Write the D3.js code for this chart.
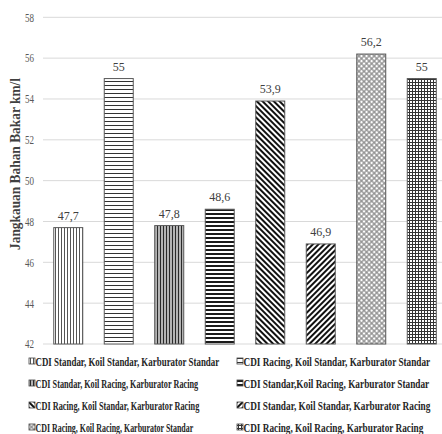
<!DOCTYPE html>
<html>
<head>
<meta charset="utf-8">
<script src="https://cdn.jsdelivr.net/npm/d3@7"></script>
<style>
  html, body { margin: 0; padding: 0; background: #fff; }
  svg { display: block; }
</style>
</head>
<body>
<svg id="chart" width="442" height="434"></svg>
<script>
// Fuel range (km/l) for each ignition / coil / carburetor setup
const setups = [
  "CDI Standar, Koil Standar, Karburator Standar",
  "CDI Racing, Koil Standar, Karburator Standar",
  "CDI Standar, Koil Racing, Karburator Racing",
  "CDI Standar,Koil Racing, Karburator Standar",
  "CDI Racing, Koil Standar, Karburator Racing",
  "CDI Standar, Koil Standar, Karburator Racing",
  "CDI Racing, Koil Racing, Karburator Standar",
  "CDI Racing, Koil Racing, Karburator Racing"
];
const rangeKmL = [47.7, 55, 47.8, 48.6, 53.9, 46.9, 56.2, 55];
const valueLabels = ["47,7", "55", "47,8", "48,6", "53,9", "46,9", "56,2", "55"];
const yTicks = [42, 44, 46, 48, 50, 52, 54, 56, 58];
const yTitle = "Jangkauan Bahan Bakar km/l";

const svg = d3.select("#chart");
const serif = "'Liberation Serif', 'Times New Roman', serif";

// squeeze a text element horizontally to a target width, anchored at its start
function squeeze(sel, widthOf) {
  sel.each(function (d, i) {
    const t = d3.select(this);
    const natural = this.getComputedTextLength();
    const sx = widthOf(d, i) / natural;
    const x0 = +t.attr("x") || 0;
    t.attr("transform", `translate(${x0},0) scale(${sx},1) translate(${-x0},0)`);
  });
}

// ---- fill patterns, one per setup ----
const defs = svg.append("defs");
function pattern(id, w, h, rot, draw) {
  const p = defs.append("pattern")
    .attr("id", id).attr("patternUnits", "userSpaceOnUse")
    .attr("width", w).attr("height", h);
  if (rot) p.attr("patternTransform", `rotate(${rot})`);
  p.append("rect").attr("width", w).attr("height", h).attr("fill", "#fff");
  draw(p, w, h);
}
const vline = (p, x, h, c, sw) => p.append("line").attr("x1", x).attr("x2", x).attr("y1", 0).attr("y2", h).attr("stroke", c).attr("stroke-width", sw);
const hline = (p, y, w, c, sw) => p.append("line").attr("x1", 0).attr("x2", w).attr("y1", y).attr("y2", y).attr("stroke", c).attr("stroke-width", sw);

pattern("p0", 3, 3, 0, (p, w, h) => vline(p, 1.5, h, "#555", 1));
pattern("p1", 3, 4, 0, (p, w, h) => hline(p, 1.5, w, "#333", 1));
pattern("p2", 3, 3, 0, (p, w, h) => vline(p, 1.5, h, "#2a2a2a", 1.7));
pattern("p3", 3, 4, 0, (p, w, h) => hline(p, 2, w, "#1a1a1a", 2));
pattern("p4", 4, 4, -45, (p, w, h) => vline(p, 2, h, "#111", 2));
pattern("p5", 4, 4, 45, (p, w, h) => vline(p, 2, h, "#111", 2));
pattern("p6", 3.6, 3.6, 45, (p, w, h) => { vline(p, 1.8, h, "#888", 1.2); hline(p, 1.8, w, "#888", 1.2); });
pattern("p7", 3, 3, 0, (p, w, h) => { vline(p, 1.5, h, "#333", 1); hline(p, 1.5, w, "#333", 1); });

// ---- scales ----
const x = d3.scaleBand()
  .domain(setups)
  .range([43, 447])
  .paddingInner(0.426)
  .paddingOuter(0.213);

const y = d3.scaleLinear().domain([42, 58]).range([344, 17.3]);

// gridlines
svg.append("g").selectAll("line")
  .data(yTicks)
  .join("line")
  .attr("x1", 43).attr("x2", 442)
  .attr("y1", d => y(d)).attr("y2", d => y(d))
  .attr("stroke", "#d9d9d9").attr("stroke-width", 1);

// y axis labels
const yAxis = svg.append("g")
  .attr("transform", "translate(43,0)")
  .call(d3.axisLeft(y).tickValues(yTicks).tickSize(0).tickPadding(9));
yAxis.select(".domain").remove();
yAxis.selectAll("text")
  .attr("font-family", serif)
  .attr("font-size", 12)
  .attr("fill", "#595959")
  .attr("textLength", 9)
  .attr("lengthAdjust", "spacingAndGlyphs");

// y axis title
svg.append("text")
  .attr("transform", "translate(20,164) rotate(-90)")
  .attr("text-anchor", "middle")
  .attr("font-family", serif)
  .attr("font-size", 14)
  .attr("font-weight", "bold")
  .attr("fill", "#404040")
  .attr("textLength", 172)
  .attr("lengthAdjust", "spacingAndGlyphs")
  .text(yTitle);

// bars
svg.append("g").selectAll("rect")
  .data(setups)
  .join("rect")
  .attr("x", d => x(d))
  .attr("y", (d, i) => y(rangeKmL[i]))
  .attr("width", x.bandwidth())
  .attr("height", (d, i) => y(42) - y(rangeKmL[i]))
  .attr("fill", (d, i) => `url(#p${i})`)
  .attr("stroke", "#595959")
  .attr("stroke-width", 1);

// value labels
svg.append("g").selectAll("text")
  .data(setups)
  .join("text")
  .attr("x", d => x(d) + x.bandwidth() / 2)
  .attr("y", (d, i) => y(rangeKmL[i]) - 8)
  .attr("text-anchor", "middle")
  .attr("font-family", serif)
  .attr("font-size", 12)
  .attr("fill", "#404040")
  .text((d, i) => valueLabels[i]);

// legend: two columns, filled row by row
const legendRowY = [361, 383, 405, 427];
const legendColX = [29, 237];
const legendLen = [184, 187, 163, 186, 164, 187, 158, 180];
const legend = svg.append("g").selectAll("g")
  .data(setups)
  .join("g")
  .attr("transform", (d, i) => `translate(${legendColX[i % 2]},${legendRowY[Math.floor(i / 2)]})`);
legend.append("rect")
  .attr("x", 0).attr("y", -3)
  .attr("width", 6).attr("height", 6)
  .attr("fill", (d, i) => `url(#p${i})`)
  .attr("stroke", "#444").attr("stroke-width", 0.8);
legend.append("text")
  .attr("x", 6.5).attr("y", 4.5)
  .attr("font-family", serif)
  .attr("font-size", 12)
  .attr("font-weight", "bold")
  .attr("fill", "#262626")
  .text(d => d)
  .call(squeeze, (d, i) => legendLen[i]);
</script>
</body>
</html>
